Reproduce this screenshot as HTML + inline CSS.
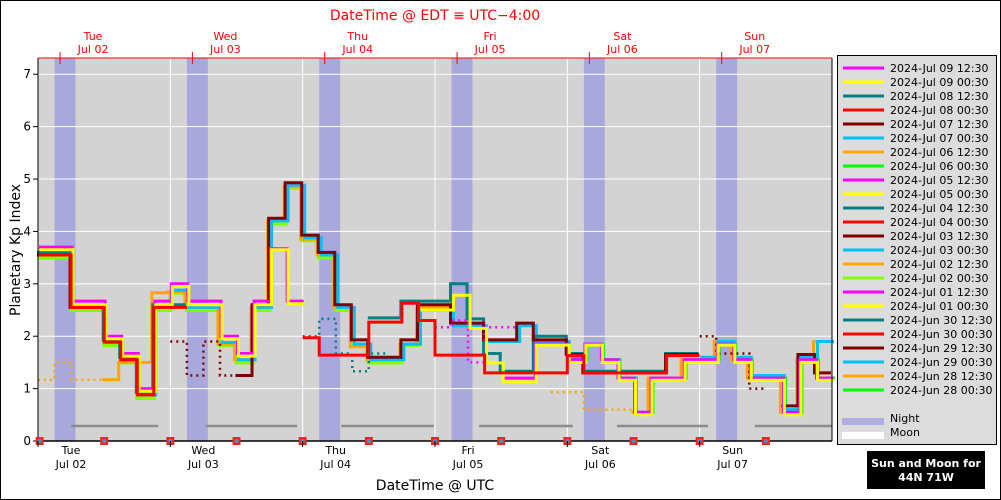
<!DOCTYPE html>
<html><head><meta charset="utf-8">
<style>
html,body{margin:0;padding:0;background:#fff;}
#wrap{position:relative;width:1001px;height:500px;overflow:hidden;}
svg text{font-family:"DejaVu Sans","Liberation Sans",sans-serif;}
</style></head>
<body>
<div id="wrap">
<svg id="chart" width="1001" height="500" viewBox="0 0 1001 500" xmlns="http://www.w3.org/2000/svg">
<rect x="0.5" y="0.5" width="1000" height="499" fill="#fff" stroke="#000"/>
<text x="435" y="20" font-size="14" fill="#ff0000" text-anchor="middle">DateTime @ EDT ≡ UTC−4:00</text>
<text x="435" y="490" font-size="14" fill="#000" text-anchor="middle">DateTime @ UTC</text>
<text x="20" y="250" font-size="14" fill="#000" text-anchor="middle" transform="rotate(-90 20 250)">Planetary Kp Index</text>
<g id="plot"></g>
<g id="legend"></g>
<rect x="867" y="451" width="118" height="38" fill="#000"/>
<text x="926" y="467" font-size="11" font-weight="bold" fill="#fff" text-anchor="middle">Sun and Moon for</text>
<text x="926" y="481" font-size="11" font-weight="bold" fill="#fff" text-anchor="middle">44N 71W</text>
</svg>
</div>
<script>
var N = null;
var dayNames = ["Tue","Wed","Thu","Fri","Sat","Sun"];
var dayDates = ["Jul 02","Jul 03","Jul 04","Jul 05","Jul 06","Jul 07"];
var yTicks = [0,1,2,3,4,5,6,7];
var nightStartsH = [3.0,27.0,51.0,75.0,99.0,123.0];
var nightEndsH = [6.8,30.8,54.8,78.8,102.8,126.8];
var moonStartsH = [6.0,30.4,55.0,80.0,105.0,130.0];
var moonEndsH = [21.8,47.0,71.8,97.0,121.5,144.0];
var markerH = [0.3,12,24,36,48,60,72,84,96,108,120,132];

var limeVals = [3.5,3.5,2.5,2.5,1.83,1.5,0.82,2.5,2.83,2.5,2.5,1.83,1.5,2.5,4.15,4.83,3.83,3.5,2.5,1.83,1.5,1.5,1.83,2.5,2.5,N,N,N,N,N,N,N,N,N,N,N,N,N,N,N,N,N,N,N,N,N,N,N];
var greenVals = [N,N,N,N,N,N,N,N,N,N,N,N,N,N,N,N,N,N,N,N,N,N,N,N,N,N,N,N,N,N,N,N,1.55,1.85,1.55,1.2,0.55,1.2,1.2,1.55,1.55,1.85,1.55,1.2,1.2,0.55,1.55,1.2];
var cyanVals = [3.55,3.55,2.55,2.55,1.88,1.55,0.88,2.55,2.88,2.55,2.55,1.88,1.55,2.55,4.2,4.88,3.88,3.55,2.55,1.85,1.55,1.55,1.85,2.5,2.5,2.2,2.2,1.9,1.9,2.2,1.9,1.9,1.6,1.85,1.55,1.2,0.55,1.2,1.2,1.55,1.6,1.9,1.6,1.25,1.25,0.6,1.6,1.9];
var orangeVals = [N,N,N,N,1.17,1.5,1.5,2.83,2.85,2.55,2.55,1.85,1.55,2.55,4.2,4.85,3.85,3.55,2.55,1.8,1.55,1.55,1.85,2.55,2.55,N,N,N,N,N,N,N,N,N,N,N,0.55,1.2,1.2,1.55,1.55,1.9,1.55,1.2,1.2,0.55,1.55,1.9];
var orangeDotVals = [1.17,1.5,1.17,1.17,1.17,N,N,N,N,N,N,N,N,N,N,N,N,N,N,N,N,N,N,N,N,N,N,N,N,N,N,0.93,0.93,0.6,0.6,0.6,N,N,N,N,N,N,N,N,N,N,N,N];
var tealVals = [3.6,3.6,2.6,2.6,1.93,1.6,0.93,2.6,2.6,N,N,N,N,N,N,N,N,N,N,N,2.35,2.35,2.67,2.67,2.67,3.0,2.33,1.67,1.33,1.33,2.0,2.0,1.67,1.33,1.33,1.33,1.33,1.33,1.67,1.67,N,N,N,N,N,N,N,N];
var tealDotVals = [N,N,N,N,N,N,N,N,N,N,N,N,N,N,N,N,2.0,2.33,1.67,1.33,1.67,N,N,N,N,N,N,N,N,N,N,N,N,N,N,N,N,N,N,N,N,N,N,N,N,N,N,N];
var darkredVals = [3.55,3.55,2.55,2.55,N,N,N,N,N,N,N,N,1.25,2.6,4.25,4.93,3.93,3.6,2.6,1.93,1.6,1.6,1.93,2.6,2.6,2.25,2.25,1.93,1.93,2.25,1.93,1.93,1.65,1.3,1.3,1.3,1.3,1.3,1.65,1.65,N,N,N,N,N,0.67,1.65,1.3];
var darkredDotVals = [N,N,N,N,N,N,N,N,1.9,1.25,1.9,1.25,N,N,N,N,N,N,N,N,N,N,N,N,N,N,N,N,N,N,N,N,N,N,N,N,N,N,N,N,2.0,1.67,1.67,1.0,N,N,N,N];
var redVals = [3.55,3.55,2.55,2.55,1.89,1.55,0.88,2.55,2.55,N,N,N,N,N,N,N,1.97,1.64,1.64,1.64,2.27,2.27,2.63,2.3,1.64,1.64,1.64,1.3,1.3,1.3,1.3,1.3,1.63,1.3,1.3,1.3,1.3,1.3,1.63,1.63,N,N,N,N,N,N,N,N];
var magentaVals = [3.7,3.7,2.67,2.67,2.0,1.67,1.0,2.67,3.0,2.67,2.67,2.0,1.67,2.67,3.67,2.67,N,N,N,N,N,N,N,N,N,N,N,N,1.2,1.2,1.85,1.85,1.55,1.85,1.55,1.2,0.55,1.2,1.2,1.55,1.55,1.85,1.55,1.2,1.2,0.55,1.55,1.2];
var magentaDotVals = [N,N,N,N,N,N,N,N,N,N,N,N,N,N,N,N,N,N,N,N,N,N,N,N,2.17,2.3,1.5,2.17,2.17,N,N,N,N,N,N,N,N,N,N,N,N,N,N,N,N,N,N,N];
var yellowVals = [3.65,3.65,2.6,2.6,1.95,1.62,0.95,2.6,2.95,2.6,2.6,1.95,1.62,2.6,3.65,2.62,N,N,N,N,N,N,N,2.5,2.5,2.78,2.15,1.49,1.13,1.13,1.83,1.83,1.5,1.83,1.5,1.16,0.5,1.16,1.16,1.5,1.5,1.83,1.5,1.16,1.16,0.5,1.5,1.16];

var legendLabels = ["2024-Jul 09 12:30","2024-Jul 09 00:30","2024-Jul 08 12:30","2024-Jul 08 00:30","2024-Jul 07 12:30","2024-Jul 07 00:30","2024-Jul 06 12:30","2024-Jul 06 00:30","2024-Jul 05 12:30","2024-Jul 05 00:30","2024-Jul 04 12:30","2024-Jul 04 00:30","2024-Jul 03 12:30","2024-Jul 03 00:30","2024-Jul 02 12:30","2024-Jul 02 00:30","2024-Jul 01 12:30","2024-Jul 01 00:30","2024-Jun 30 12:30","2024-Jun 30 00:30","2024-Jun 29 12:30","2024-Jun 29 00:30","2024-Jun 28 12:30","2024-Jun 28 00:30"];
var legendColors = ["#ff00ff","#ffff00","#008080","#ff0000","#800000","#00bfff","#ffa500","#00ff00","#ff00ff","#ffff00","#008080","#ff0000","#800000","#00bfff","#ffa500","#7fff00","#ff00ff","#ffff00","#008080","#ff0000","#800000","#00bfff","#ffa500","#00ff00"];

var X0 = 38, X1 = 832, Y0 = 441, YTOP = 58, HOURS = 144, YMAX = 7.31;
function xH(h){ return X0 + (X1 - X0) * h / HOURS; }
function xB(i){ return xH(i * 3); }
function yV(v){ return Y0 - (Y0 - YTOP) * v / YMAX; }
var NS = "http://www.w3.org/2000/svg";
var plot = document.getElementById("plot");
var legend = document.getElementById("legend");
function mk(tag, attrs, parent){
  var e = document.createElementNS(NS, tag);
  for (var k in attrs) e.setAttribute(k, attrs[k]);
  parent.appendChild(e);
  return e;
}

var bg = mk("rect", {x:X0, y:YTOP, width:X1-X0, height:Y0-YTOP, fill:"#d3d3d3"}, plot);



nightStartsH.forEach(function(s, i){
  var r = mk("rect", {x:xH(s), y:YTOP, width:xH(nightEndsH[i])-xH(s), height:Y0-YTOP, fill:"#a8a8dc"}, plot);
  
  
});
for (var d = 1; d < 6; d++){
  var g = mk("line", {x1:xH(d*24), x2:xH(d*24), y1:YTOP, y2:Y0, stroke:"#fff", "stroke-width":1}, plot);
  
  
}
yTicks.forEach(function(t){
  if (t > 0){
    var g = mk("line", {x1:X0, x2:X1, y1:yV(t), y2:yV(t), stroke:"#fff", "stroke-width":1}, plot);
    
    
  }
  var tk = mk("line", {x1:X0-5, x2:X0, y1:yV(t), y2:yV(t), stroke:"#000"}, plot);
  
  
  var tl = mk("text", {x:X0-7, y:yV(t)+4, "font-size":12, "text-anchor":"end", fill:"#000"}, plot);
  tl.textContent = t;
  
  
});
moonStartsH.forEach(function(s, i){
  var m = mk("line", {x1:xH(s), x2:xH(moonEndsH[i]), y1:426, y2:426, stroke:"#8c8c8c", "stroke-width":2.5}, plot);
  
  
});

function stepPath(vals){
  var d = "", prev = null;
  for (var i = 0; i < vals.length; i++){
    var v = vals[i];
    if (v === null){ prev = null; continue; }
    if (prev === null) d += "M" + xB(i).toFixed(1) + " " + yV(v).toFixed(1);
    else d += "V" + yV(v).toFixed(1);
    d += "H" + xB(i+1).toFixed(1);
    prev = v;
  }
  return d;
}
var seriesList = [
  {vals:limeVals, color:"#7fff00", w:4, dx:0, dash:null, name:"series-jul02-0030"},
  {vals:greenVals, color:"#00ff00", w:3, dx:3, dash:null, name:"series-jul06-0030"},
  {vals:orangeDotVals, color:"#ffa500", w:2.5, dx:0, dash:"2 4", name:"series-orange-dotted"},
  {vals:orangeVals, color:"#ffa500", w:3, dx:-2, dash:null, name:"series-jul06-1230"},
  {vals:cyanVals, color:"#00bfff", w:3, dx:2, dash:null, name:"series-jul07-0030"},
  {vals:tealDotVals, color:"#008080", w:2.5, dx:0, dash:"2 4", name:"series-teal-dotted"},
  {vals:tealVals, color:"#008080", w:3, dx:-1, dash:null, name:"series-jul08-1230"},
  {vals:darkredDotVals, color:"#800000", w:2.5, dx:0, dash:"2 4", name:"series-darkred-dotted"},
  {vals:darkredVals, color:"#800000", w:3, dx:-1, dash:null, name:"series-jul07-1230"},
  {vals:magentaDotVals, color:"#ff00ff", w:2.5, dx:0, dash:"2 4", name:"series-magenta-dotted"},
  {vals:magentaVals, color:"#ff00ff", w:3, dx:1, dash:null, name:"series-jul09-1230"},
  {vals:yellowVals, color:"#ffff00", w:3, dx:2, dash:null, name:"series-jul09-0030"},
  {vals:redVals, color:"#ff0000", w:3, dx:0, dash:null, name:"series-jul08-0030"}
];
seriesList.forEach(function(s){
  var p = mk("path", {d:stepPath(s.vals), fill:"none", stroke:s.color, "stroke-width":s.w, transform:"translate(" + s.dx + ",0)"}, plot);
  if (s.dash) p.setAttribute("stroke-dasharray", s.dash);
  
  
});

var fl = mk("line", {x1:X0, x2:X0, y1:YTOP, y2:Y0, stroke:"#000"}, plot);


var fr = mk("line", {x1:X1, x2:X1, y1:YTOP, y2:Y0, stroke:"#000"}, plot);


var fb = mk("line", {x1:X0, x2:X1, y1:Y0, y2:Y0, stroke:"#000", "stroke-width":1.5}, plot);


var ft = mk("line", {x1:X0, x2:X1, y1:YTOP, y2:YTOP, stroke:"#ff0000"}, plot);



markerH.forEach(function(h){
  var mx = xH(h);
  var m = mk("rect", {x:mx-4, y:Y0-4, width:8, height:8, fill:"#ff2020"}, plot);
  
  
  var c = mk("circle", {cx:mx, cy:Y0, r:2, fill:"#3399cc"}, plot);
  
  
});

dayNames.forEach(function(n, i){
  var tx = xH(i*24);
  var tk = mk("line", {x1:tx, x2:tx, y1:Y0, y2:Y0+6, stroke:"#000"}, plot);
  
  
  var l1 = mk("text", {x:tx+33, y:454, "font-size":11, "text-anchor":"middle", fill:"#000"}, plot);
  l1.textContent = n;
  
  
  var l2 = mk("text", {x:tx+33, y:468, "font-size":11, "text-anchor":"middle", fill:"#000"}, plot);
  l2.textContent = dayDates[i];
  
  
  var ttx = xH(i*24+4);
  var tt = mk("line", {x1:ttx, x2:ttx, y1:YTOP-6, y2:YTOP+6, stroke:"#ff0000"}, plot);
  
  
  var t1 = mk("text", {x:ttx+33, y:40, "font-size":11, "text-anchor":"middle", fill:"#ff0000"}, plot);
  t1.textContent = n;
  
  
  var t2 = mk("text", {x:ttx+33, y:53, "font-size":11, "text-anchor":"middle", fill:"#ff0000"}, plot);
  t2.textContent = dayDates[i];
  
  
});

var lb = mk("rect", {x:837.5, y:55.5, width:159, height:389, fill:"#dcdcdc", stroke:"#000"}, legend);


legendLabels.forEach(function(lbl, i){
  var y = 68 + i*14;
  var ln = mk("line", {x1:843, x2:884, y1:y, y2:y, stroke:legendColors[i], "stroke-width":3}, legend);
  
  
  var t = mk("text", {x:890, y:y+4, "font-size":11, fill:"#000"}, legend);
  t.textContent = lbl;
  
  
});
var nsw = mk("rect", {x:842, y:418, width:42, height:7, fill:"#b0b0e0"}, legend);


var nt = mk("text", {x:890, y:422, "font-size":11, fill:"#000"}, legend);
nt.textContent = "Night";


var msw = mk("rect", {x:842, y:432, width:42, height:7, fill:"#fff"}, legend);


var mt = mk("text", {x:890, y:436, "font-size":11, fill:"#000"}, legend);
mt.textContent = "Moon";


</script>
</body></html>
